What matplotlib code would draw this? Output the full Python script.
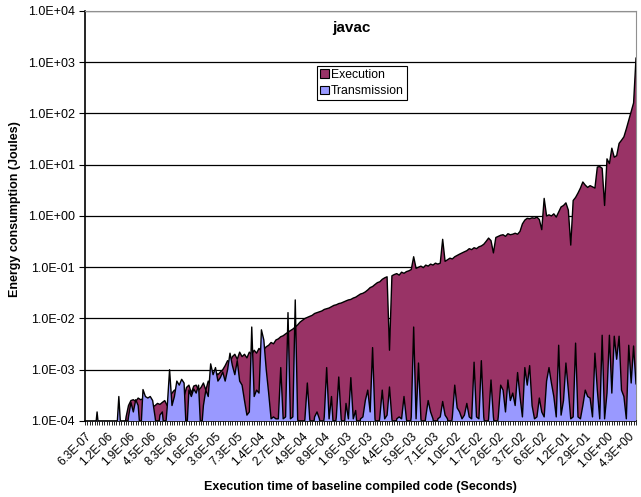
import matplotlib.pyplot as plt
import numpy as np
from matplotlib.ticker import FuncFormatter, NullLocator

plt.rcParams['font.family'] = ['Liberation Sans', 'DejaVu Sans']

# Energy per method (Joules), ordered by baseline execution time
# values under 1e-4 sit below the axis floor
execution = [
    5e-5, 5e-5, 5e-5, 5e-5, 5e-5, 5e-5, 5e-5, 5e-5, 5e-5, 5e-5,
    5e-5, 5e-5, 5e-5, 5e-5, 5e-5, 5e-5, 5e-5, 1.2e-4, 2.0e-4, 2.5e-4,
    2.6e-4, 2.4e-4, 2.8e-4, 2.6e-4, 2.7e-4, 2.3e-4, 2.2e-4, 2.0e-4, 1.9e-4, 2.0e-4,
    2.2e-4, 2.1e-4, 2.3e-4, 2.5e-4, 2.0e-4, 3.0e-4, 3.5e-4, 4.0e-4, 3.8e-4, 4.2e-4,
    3.6e-4, 3.0e-4, 4.5e-4, 5.0e-4, 3.5e-4, 4.8e-4, 5.0e-4, 4.0e-4, 4.5e-4, 5.5e-4,
    4.0e-4, 6.0e-4, 5.0e-4, 7.0e-4, 9.0e-4, 8.0e-4, 9.0e-4, 1.0e-3, 1.2e-3, 1.5e-3,
    1.4e-3, 1.8e-3, 2.0e-3, 1.6e-3, 2.2e-3, 1.8e-3, 2.0e-3, 1.7e-3, 2.2e-3, 2.0e-3,
    2.4e-3, 2.1e-3, 2.6e-3, 2.3e-3, 2.5e-3, 2.8e-3, 3.0e-3, 3.4e-3, 3.2e-3, 3.8e-3,
    4.0e-3, 4.4e-3, 4.6e-3, 5.0e-3, 5.4e-3, 5.8e-3, 6.2e-3, 6.8e-3, 7.5e-3, 8.5e-3,
    9.2e-3, 1.0e-2, 1.05e-2, 1.1e-2, 1.15e-2, 1.25e-2, 1.3e-2, 1.35e-2, 1.4e-2, 1.5e-2,
    1.55e-2, 1.6e-2, 1.7e-2, 1.8e-2, 1.85e-2, 1.95e-2, 2.0e-2, 2.1e-2, 2.2e-2, 2.3e-2,
    2.35e-2, 2.5e-2, 2.6e-2, 2.8e-2, 3.0e-2, 3.1e-2, 3.3e-2, 3.6e-2, 4.0e-2, 4.2e-2,
    4.6e-2, 5.0e-2, 5.2e-2, 5.8e-2, 6.2e-2, 6.5e-2, 2.4e-3, 6.8e-2, 7.2e-2, 7.5e-2,
    7.0e-2, 8.0e-2, 7.6e-2, 8.2e-2, 8.5e-2, 9.0e-2, 1.6e-1, 9.5e-2, 1.0e-1, 1.05e-1,
    9.8e-2, 1.1e-1, 1.05e-1, 1.15e-1, 1.1e-1, 1.2e-1, 1.15e-1, 1.2e-1, 3.5e-1, 1.3e-1,
    1.4e-1, 1.5e-1, 1.45e-1, 1.6e-1, 1.7e-1, 1.8e-1, 1.9e-1, 2.0e-1, 2.1e-1, 2.3e-1,
    2.2e-1, 2.4e-1, 2.3e-1, 2.5e-1, 2.6e-1, 2.8e-1, 3.2e-1, 3.7e-1, 3.3e-1, 1.9e-1,
    3.8e-1, 4.0e-1, 4.2e-1, 4.3e-1, 4.0e-1, 4.5e-1, 4.3e-1, 4.4e-1, 4.6e-1, 4.4e-1,
    0.5, 0.7, 0.83, 0.9, 0.88, 0.92, 0.9, 0.95, 0.85, 0.54,
    2.2, 1.0, 1.05, 1.0, 1.1, 0.95, 1.2, 1.5, 1.6, 1.8,
    1.3, 0.27, 2.0, 2.3, 2.8, 3.5, 4.6, 4.0, 3.6, 3.9,
    3.7, 3.5, 9.0, 9.2, 8.5, 1.6, 13.0, 10.5, 21.0, 14.0,
    15.0, 26.0, 30.0, 35.0, 50.0, 74.0, 110.0, 160.0, 1200.0,
]

transmission = [
    5e-5, 5e-5, 5e-5, 5e-5, 5e-5, 1.5e-4, 5e-5, 5e-5, 5e-5, 5e-5,
    5e-5, 5e-5, 5e-5, 5e-5, 3e-4, 5e-5, 5e-5, 5e-5, 1.2e-4, 2.3e-4,
    1.5e-4, 2.6e-4, 2.0e-4, 5e-5, 4.1e-4, 3.0e-4, 2.8e-4, 3.0e-4, 2.5e-4, 1.2e-4,
    5e-5, 1.3e-4, 1.5e-4, 5e-5, 1.8e-4, 1.0e-3, 2.0e-4, 3.0e-4, 6.0e-4, 5.0e-4,
    6.5e-4, 5.5e-4, 5e-5, 4.0e-4, 3.0e-4, 4.2e-4, 3.5e-4, 5.0e-4, 5e-5, 2.0e-4,
    4.0e-4, 3.0e-4, 1.3e-3, 8.0e-4, 1.1e-3, 6.0e-4, 7.0e-4, 9.0e-4, 6.0e-4, 1.0e-3,
    2.1e-3, 1.2e-3, 8.0e-4, 1.5e-3, 6.0e-4, 5.0e-4, 2.5e-4, 1.3e-4, 1.5e-4, 6.8e-3,
    3.0e-4, 4.0e-4, 3.5e-4, 6.0e-3, 3.8e-3, 1.0e-3, 3.5e-4, 1.1e-4, 1.2e-4, 1.1e-4,
    1.1e-4, 1.1e-3, 1.1e-4, 1.2e-4, 1.3e-2, 1.1e-4, 1.2e-4, 2.3e-2, 1.1e-4, 5e-5,
    5e-5, 1.1e-4, 5.5e-4, 1.1e-4, 5e-5, 1.2e-4, 1.5e-4, 1.1e-4, 5e-5, 1.2e-4,
    1.1e-3, 1.1e-4, 3.0e-4, 5e-5, 1.2e-4, 7.2e-4, 1.1e-4, 5e-5, 2.2e-4, 1.1e-4,
    7.0e-4, 1.1e-4, 1.6e-4, 5e-5, 1.1e-4, 1.2e-4, 2.5e-4, 4.0e-4, 1.5e-4, 2.7e-3,
    1.1e-4, 5e-5, 1.2e-4, 4.0e-4, 1.1e-4, 1.3e-4, 4.6e-4, 1.1e-4, 5e-5, 1.1e-4,
    1.2e-4, 1.1e-4, 3.0e-4, 1.1e-4, 5e-5, 1.2e-4, 6.8e-3, 1.1e-4, 1.35e-3, 1.1e-4,
    5e-5, 1.2e-4, 2.5e-4, 1.5e-4, 1.1e-4, 5e-5, 1.1e-4, 1.2e-4, 2.4e-4, 1.3e-4,
    1.1e-4, 5e-5, 1.2e-4, 5.0e-4, 1.8e-4, 1.5e-4, 1.1e-4, 1.3e-4, 2.2e-4, 1.2e-4,
    1.1e-4, 1.4e-3, 1.2e-4, 1.1e-4, 1.5e-3, 1.2e-4, 5e-5, 1.1e-4, 6.3e-4, 1.2e-4,
    5e-5, 1.2e-4, 5.0e-4, 4.0e-4, 1.5e-4, 6.3e-4, 2.5e-4, 3.5e-4, 2.0e-4, 8.8e-4,
    3.0e-4, 1.2e-4, 1.1e-3, 5.0e-4, 1.2e-3, 2.0e-4, 1.1e-4, 1.2e-4, 2.8e-4, 1.5e-4,
    1.2e-4, 6.0e-4, 1.1e-3, 5.5e-4, 3.0e-4, 1.2e-4, 3.0e-3, 1.3e-4, 2.5e-4, 1.35e-3,
    4.0e-4, 1.1e-4, 1.2e-4, 3.3e-3, 1.2e-4, 1.1e-4, 2.0e-4, 4.0e-4, 3.0e-4, 2.8e-4,
    1.2e-4, 2.1e-3, 4.0e-4, 1.1e-4, 4.7e-3, 1.1e-4, 3.5e-4, 4.7e-3, 3.5e-4, 4.5e-3,
    1.6e-3, 4.5e-3, 4.0e-4, 3.0e-4, 1.1e-4, 3.0e-3, 5.5e-4, 2.9e-3, 5.3e-4,
]

time_labels = ["6.3E-07", "1.2E-06", "1.9E-06", "4.5E-06", "8.3E-06", "1.6E-05",
               "3.6E-05", "7.3E-05", "1.4E-04", "2.7E-04", "4.9E-04", "8.9E-04",
               "1.6E-03", "3.0E-03", "4.4E-03", "5.9E-03", "7.1E-03", "1.0E-02",
               "1.7E-02", "2.6E-02", "3.7E-02", "6.6E-02", "1.2E-01", "2.9E-01",
               "1.0E+00", "4.3E+00"]
LABEL_STEP = 9  # one label every 9 categories

fig = plt.figure(figsize=(6.41, 4.97), dpi=100)
ax = fig.add_axes([0.1326, 0.153, 0.8596, 0.825])

x = np.arange(len(execution))
ax.fill_between(x, execution, 1e-6, facecolor='#993366', lw=0, label='Execution', zorder=2)
ax.plot(x, execution, color='black', lw=1, zorder=3)
ax.fill_between(x, transmission, 1e-6, facecolor='#9999FF', lw=0, label='Transmission', zorder=4)
ax.plot(x, transmission, color='black', lw=1, zorder=5)

ax.set_yscale('log')
ax.set_ylim(1e-4, 1e4)
ax.set_xlim(0, len(x) - 1)
ax.yaxis.set_minor_locator(NullLocator())
ax.yaxis.set_major_formatter(FuncFormatter(lambda v, p: f"{v:.1E}"))
ax.yaxis.grid(True, color='black', lw=0.9)
ax.set_axisbelow(True)
ax.tick_params(axis='y', labelsize=9, length=4, width=0.8, direction='out')

ax.set_xticks(np.arange(len(time_labels)) * LABEL_STEP)
ax.set_xticklabels(time_labels, rotation=45, ha='right', rotation_mode='anchor', fontsize=8.5)
ax.set_xticks(x, minor=True)
ax.tick_params(axis='x', which='both', length=3, width=0.6, direction='out')

for side in ['top', 'right']:
    ax.spines[side].set_color('#909090')
for side in ['left', 'bottom']:
    ax.spines[side].set_color('black')
    ax.spines[side].set_linewidth(1.2)

ax.text(0.483, 0.958, 'javac', transform=ax.transAxes, ha='center', va='center',
        fontsize=11, fontweight='bold')

leg = ax.legend(loc='upper left', bbox_to_anchor=(0.421, 0.866), fontsize=8.8,
                fancybox=False, framealpha=1, edgecolor='black', borderpad=0.25,
                handlelength=0.7, handleheight=0.7, handletextpad=0.2, labelspacing=0.35,
                borderaxespad=0)
for h in leg.legend_handles:
    h.set_edgecolor('black')
    h.set_linewidth(0.8)
leg.get_frame().set_linewidth(0.8)

fig.text(0.023, 0.579, 'Energy consumption (Joules)', rotation=90, ha='center', va='center',
         fontsize=9, fontweight='bold')
fig.text(0.562, 0.02, 'Execution time of baseline compiled code (Seconds)', ha='center',
         va='center', fontsize=9, fontweight='bold')

fig.savefig('out.png', dpi=100)
